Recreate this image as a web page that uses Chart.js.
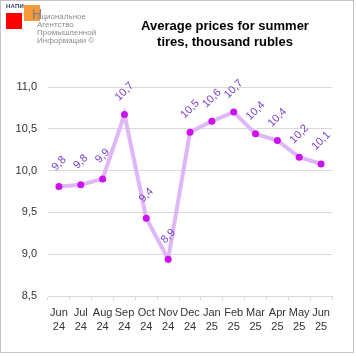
<!DOCTYPE html>
<html>
<head>
<meta charset="utf-8">
<script src="https://cdn.jsdelivr.net/npm/chart.js@4/dist/chart.umd.min.js"></script>
<style>
  html, body { margin: 0; padding: 0; background: #fff; }
  #wrap { position: relative; width: 356px; height: 356px; overflow: hidden; font-family: "Liberation Sans", Arial, sans-serif; }
  #c { position: absolute; left: 0; top: 0; }
  #frame { position: absolute; left: 0; top: 0; width: 352px; height: 351px; border: 1px solid #c4c4c4; pointer-events: none; }
  #title { position: absolute; left: 125px; width: 200px; top: 18px; text-align: center; font: bold 13px "Liberation Sans", Arial, sans-serif; line-height: 16px; color: #000; }
  .logo-red { position: absolute; left: 6px; top: 13px; width: 16px; height: 16px; background: #ff0000; }
  .logo-or { position: absolute; left: 24px; top: 5px; width: 16px; height: 16px; background: #f79a3c; }
  .logo-napi { position: absolute; left: 6px; top: 3px; font: bold 6px "Liberation Sans", Arial, sans-serif; color: #2f3f6f; letter-spacing: 0.2px; }
  .logo-big { position: absolute; left: 32px; top: 6px; font: 14px "Liberation Sans", Arial, sans-serif; color: #7f7f7f; }
  .logo-txt { position: absolute; left: 37px; top: 13px; font: 8px "Liberation Sans", Arial, sans-serif; line-height: 8px; color: #8c8c8c; white-space: nowrap; }
</style>
</head>
<body>
<div id="wrap">
  <canvas id="c" width="356" height="356"></canvas>
  <div class="logo-or"></div>
  <div class="logo-red"></div>
  <div class="logo-napi">НАПИ</div>
  <div class="logo-big">Н</div>
  <div class="logo-txt">ациональное<br>Агентство<br>Промышленной<br>Информации ©</div>
  <div id="title">Average prices for summer<br>tires, thousand rubles</div>
  <div id="frame"></div>
</div>
<script>
const categories = [["Jun","24"],["Jul","24"],["Aug","24"],["Sep","24"],["Oct","24"],["Nov","24"],["Dec","24"],["Jan","25"],["Feb","25"],["Mar","25"],["Apr","25"],["May","25"],["Jun","25"]];
const prices = [9.81, 9.83, 9.90, 10.67, 9.43, 8.94, 10.46, 10.59, 10.70, 10.44, 10.36, 10.16, 10.08];
const yTicks = [8.5, 9.0, 9.5, 10.0, 10.5, 11.0];

const fmt = v => v.toFixed(1).replace('.', ',');

const rotatedLabels = {
  id: 'rotatedLabels',
  afterDatasetsDraw(chart) {
    const ctx = chart.ctx;
    const meta = chart.getDatasetMeta(0);
    ctx.save();
    ctx.font = '11px "Liberation Sans", Arial, sans-serif';
    ctx.fillStyle = '#7a3fd0';
    ctx.textAlign = 'center';
    ctx.textBaseline = 'middle';
    meta.data.forEach((pt, i) => {
      ctx.save();
      ctx.translate(pt.x, pt.y - 23);
      ctx.rotate(-Math.PI / 4);
      ctx.fillText(fmt(prices[i]), 0, 0);
      ctx.restore();
    });
    ctx.restore();
  }
};

new Chart(document.getElementById('c'), {
  type: 'line',
  data: {
    labels: categories,
    datasets: [{
      data: prices,
      borderColor: '#dfb6f7',
      borderWidth: 4,
      tension: 0,
      pointBackgroundColor: '#cc11ee',
      pointBorderColor: '#cc11ee',
      pointRadius: 3.5,
      pointBorderWidth: 0
    }]
  },
  options: {
    responsive: false,
    animation: false,
    devicePixelRatio: 1,
    layout: { padding: { top: 87, left: 0, right: 24, bottom: 10 } },
    plugins: { legend: { display: false }, title: { display: false }, tooltip: { enabled: false } },
    scales: {
      x: {
        offset: true,
        afterFit(s) { s.height = 50; },
        grid: { display: true, drawOnChartArea: false, drawTicks: true, tickLength: 4, color: '#d9d9d9', offset: true },
        border: { display: true, color: '#d9d9d9' },
        ticks: { color: '#333', font: { family: '"Liberation Sans", Arial, sans-serif', size: 11, lineHeight: 1.3 }, padding: 6, maxRotation: 0, autoSkip: false }
      },
      y: {
        min: 8.5,
        max: 11.0,
        afterFit(s) { s.width = 48; },
        afterBuildTicks(s) { s.ticks = yTicks.map(v => ({ value: v })); },
        grid: { color: '#d9d9d9', drawTicks: false },
        border: { display: false },
        ticks: { color: '#333', font: { family: '"Liberation Sans", Arial, sans-serif', size: 11 }, padding: 11, callback: v => fmt(v) }
      }
    }
  },
  plugins: [rotatedLabels]
});
</script>
</body>
</html>
